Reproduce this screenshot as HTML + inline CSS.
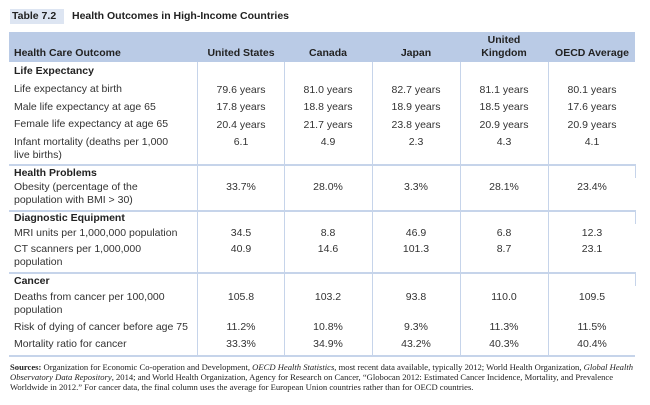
<!DOCTYPE html>
<html><head><meta charset="utf-8"><style>
body{margin:0;width:650px;height:405px;background:#fff;position:relative;overflow:hidden;font-family:"Liberation Sans",Arial,sans-serif;color:#333;}
.t{position:absolute;font-size:10.5px;line-height:13px;white-space:nowrap;}
.b{font-weight:bold;color:#222;}
.c{text-align:center;width:88px;}
.hl{position:absolute;left:9px;width:626px;height:2px;background:#c6d4ea;}
.vl{position:absolute;top:62px;width:1px;height:294px;background:#c6d4ea;}
.s{position:absolute;left:10px;width:626px;font-family:"Liberation Serif",serif;font-size:8.6px;line-height:10px;color:#222;}
</style></head><body>
<div style="position:absolute;left:10px;top:9px;width:54px;height:15px;background:#dde5f2;"></div>
<div class="t b" style="left:12px;top:10px;font-size:10.5px;">Table 7.2</div>
<div class="t b" style="left:72px;top:10px;font-size:10.5px;">Health Outcomes in High-Income Countries</div>
<div style="position:absolute;left:9px;top:32px;width:626px;height:30px;background:#bacbe6;"></div>
<div class="t b" style="left:14px;top:47px;">Health Care Outcome</div>
<div class="t b c" style="left:197px;top:47px;">United States</div>
<div class="t b c" style="left:284px;top:47px;">Canada</div>
<div class="t b c" style="left:372px;top:47px;">Japan</div>
<div class="t b c" style="left:460px;top:34px;">United<br>Kingdom</div>
<div class="t b c" style="left:548px;top:47px;">OECD Average</div>
<div class="vl" style="left:197px"></div><div class="vl" style="left:284px"></div><div class="vl" style="left:372px"></div><div class="vl" style="left:460px"></div><div class="vl" style="left:548px"></div>
<div class="hl" style="top:164px"></div><div class="hl" style="top:210px"></div><div class="hl" style="top:272px"></div><div class="hl" style="top:355px"></div>
<div style="position:absolute;left:635px;top:164px;width:1px;height:14px;background:#c6d4ea"></div>
<div style="position:absolute;left:635px;top:210px;width:1px;height:14px;background:#c6d4ea"></div>
<div style="position:absolute;left:635px;top:272px;width:1px;height:14px;background:#c6d4ea"></div>

<div class="t b" style="left:14px;top:65px;">Life Expectancy</div>
<div class="t" style="left:14px;top:83px;">Life expectancy at birth</div>
<div class="t" style="left:14px;top:101px;">Male life expectancy at age 65</div>
<div class="t" style="left:14px;top:118px;">Female life expectancy at age 65</div>
<div class="t" style="left:14px;top:136px;">Infant mortality (deaths per 1,000<br>live births)</div>
<div class="t b" style="left:14px;top:167px;">Health Problems</div>
<div class="t" style="left:14px;top:181px;">Obesity (percentage of the<br>population with BMI &gt; 30)</div>
<div class="t b" style="left:14px;top:212px;">Diagnostic Equipment</div>
<div class="t" style="left:14px;top:227px;">MRI units per 1,000,000 population</div>
<div class="t" style="left:14px;top:243px;">CT scanners per 1,000,000<br>population</div>
<div class="t b" style="left:14px;top:275px;">Cancer</div>
<div class="t" style="left:14px;top:291px;">Deaths from cancer per 100,000<br>population</div>
<div class="t" style="left:14px;top:321px;">Risk of dying of cancer before age 75</div>
<div class="t" style="left:14px;top:338px;">Mortality ratio for cancer</div>

<div class="t c" style="left:197px;top:84px;">79.6 years</div><div class="t c" style="left:284px;top:84px;">81.0 years</div><div class="t c" style="left:372px;top:84px;">82.7 years</div><div class="t c" style="left:460px;top:84px;">81.1 years</div><div class="t c" style="left:548px;top:84px;">80.1 years</div>
<div class="t c" style="left:197px;top:101px;">17.8 years</div><div class="t c" style="left:284px;top:101px;">18.8 years</div><div class="t c" style="left:372px;top:101px;">18.9 years</div><div class="t c" style="left:460px;top:101px;">18.5 years</div><div class="t c" style="left:548px;top:101px;">17.6 years</div>
<div class="t c" style="left:197px;top:119px;">20.4 years</div><div class="t c" style="left:284px;top:119px;">21.7 years</div><div class="t c" style="left:372px;top:119px;">23.8 years</div><div class="t c" style="left:460px;top:119px;">20.9 years</div><div class="t c" style="left:548px;top:119px;">20.9 years</div>
<div class="t c" style="left:197px;top:136px;">6.1</div><div class="t c" style="left:284px;top:136px;">4.9</div><div class="t c" style="left:372px;top:136px;">2.3</div><div class="t c" style="left:460px;top:136px;">4.3</div><div class="t c" style="left:548px;top:136px;">4.1</div>
<div class="t c" style="left:197px;top:181px;">33.7%</div><div class="t c" style="left:284px;top:181px;">28.0%</div><div class="t c" style="left:372px;top:181px;">3.3%</div><div class="t c" style="left:460px;top:181px;">28.1%</div><div class="t c" style="left:548px;top:181px;">23.4%</div>
<div class="t c" style="left:197px;top:227px;">34.5</div><div class="t c" style="left:284px;top:227px;">8.8</div><div class="t c" style="left:372px;top:227px;">46.9</div><div class="t c" style="left:460px;top:227px;">6.8</div><div class="t c" style="left:548px;top:227px;">12.3</div>
<div class="t c" style="left:197px;top:243px;">40.9</div><div class="t c" style="left:284px;top:243px;">14.6</div><div class="t c" style="left:372px;top:243px;">101.3</div><div class="t c" style="left:460px;top:243px;">8.7</div><div class="t c" style="left:548px;top:243px;">23.1</div>
<div class="t c" style="left:197px;top:291px;">105.8</div><div class="t c" style="left:284px;top:291px;">103.2</div><div class="t c" style="left:372px;top:291px;">93.8</div><div class="t c" style="left:460px;top:291px;">110.0</div><div class="t c" style="left:548px;top:291px;">109.5</div>
<div class="t c" style="left:197px;top:321px;">11.2%</div><div class="t c" style="left:284px;top:321px;">10.8%</div><div class="t c" style="left:372px;top:321px;">9.3%</div><div class="t c" style="left:460px;top:321px;">11.3%</div><div class="t c" style="left:548px;top:321px;">11.5%</div>
<div class="t c" style="left:197px;top:338px;">33.3%</div><div class="t c" style="left:284px;top:338px;">34.9%</div><div class="t c" style="left:372px;top:338px;">43.2%</div><div class="t c" style="left:460px;top:338px;">40.3%</div><div class="t c" style="left:548px;top:338px;">40.4%</div>

<div class="s" style="top:362px;"><b>Sources:</b> Organization for Economic Co-operation and Development, <i>OECD Health Statistics</i>, most recent data available, typically 2012; World Health Organization, <i>Global Health Observatory Data Repository</i>, 2014; and World Health Organization, Agency for Research on Cancer, “Globocan 2012: Estimated Cancer Incidence, Mortality, and Prevalence Worldwide in 2012.” For cancer data, the final column uses the average for European Union countries rather than for OECD countries.</div>
</body></html>
